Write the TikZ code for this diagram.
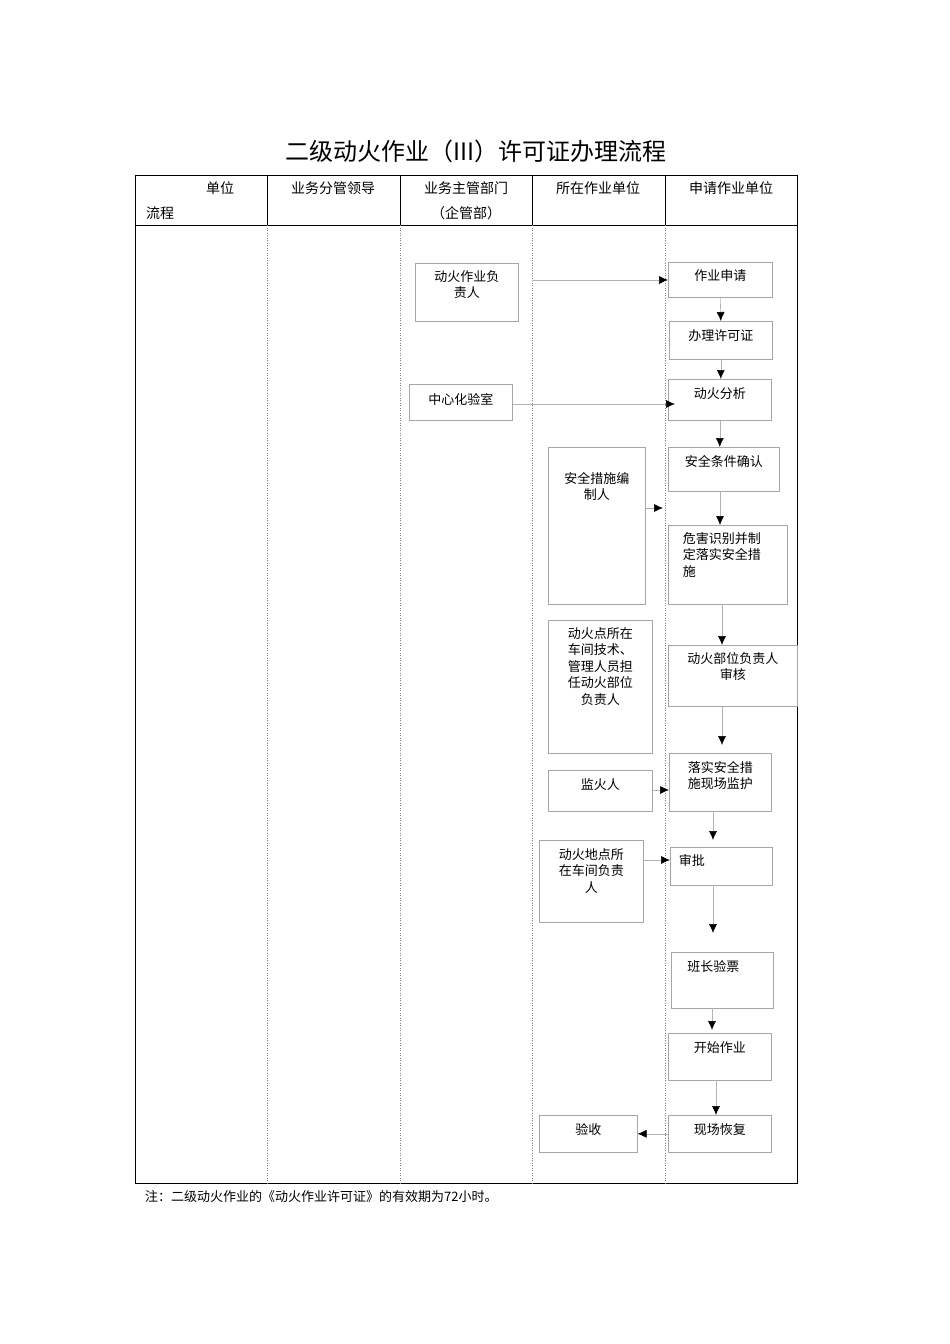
\documentclass[tikz,border=0pt]{standalone}
\usepackage{fontspec}
\setmainfont{Noto Sans CJK SC}
\usetikzlibrary{arrows.meta}
\tikzset{
  bx/.style={draw=gray!70, line width=0.6pt, anchor=north west, inner sep=0pt},
  lb/.style={anchor=north, align=center, font=\fontsize{13}{16.5}\selectfont, inner sep=0pt},
  ar/.style={draw=gray!60, line width=0.6pt, -{Latex[black,length=9pt,width=8pt]}},
  hd/.style={font=\fontsize{14}{18}\selectfont, inner sep=0pt},
}
\begin{document}
\begin{tikzpicture}[x=1pt,y=-1pt]
\def\mybox#1#2#3#4#5#6#7{%
  \node[bx, minimum width=#4pt-#2pt, minimum height=#5pt-#3pt] (#1) at (#2,#3) {};
  \node[lb] (#1t) at ([yshift=-#7]#1.north) {#6};}
\useasboundingbox (0,0) rectangle (950,1344);
\node[font=\fontsize{24}{28}\selectfont] (title) at (476,151) {二级动火作业（III）许可证办理流程};
\draw[line width=0.7pt] (135,175) rectangle (797,1183);
\draw[line width=0.7pt] (135,225) -- (797,225);
\foreach \x in {267,400,532,665} {
  \draw[line width=0.6pt] (\x,175) -- (\x,225);
  \draw[gray, line width=0.5pt, dotted] (\x,225) -- (\x,1183);
}
\node[hd] (h0a) at (220,188) {单位};
\node[hd] (h0b) at (160,213) {流程};
\node[hd] (h1) at (333,188) {业务分管领导};
\node[hd] (h2) at (466,188) {业务主管部门};
\node[hd] (h2b) at (466,213) {（企管部）};
\node[hd] (h3) at (598,188) {所在作业单位};
\node[hd] (h4) at (731,188) {申请作业单位};
\mybox{A}{415}{263}{518}{321}{动火作业负\\责人}{7pt}
\mybox{B}{668}{262}{772}{297}{作业申请}{7pt}
\mybox{C}{669}{321}{772}{359}{办理许可证}{8pt}
\mybox{D}{409}{384}{512}{420}{中心化验室}{9pt}
\mybox{E}{668}{379}{771}{420}{动火分析}{8pt}
\mybox{F}{548}{447}{645}{604}{安全措施编\\制人}{25pt}
\mybox{G}{668}{447}{779}{491}{安全条件确认}{8pt}
\mybox{H}{668}{525}{787}{604}{\makebox[90pt][s]{危害识别并制}\\\makebox[90pt][s]{定落实安全措}\\\makebox[90pt][l]{施}}{7pt}
\mybox{I}{548}{620}{652}{753}{动火点所在\\车间技术、\\管理人员担\\任动火部位\\负责人}{7pt}
\mybox{J}{668}{645}{797}{706}{动火部位负责人\\审核}{7pt}
\mybox{K}{548}{770}{652}{811}{监火人}{8pt}
\mybox{L}{669}{753}{771}{811}{落实安全措\\施现场监护}{8pt}
\mybox{M}{539}{840}{643}{922}{动火地点所\\在车间负责\\人}{8pt}
\mybox{N}{670}{847}{772}{885}{\makebox[85pt][l]{审批}}{7pt}
\mybox{O}{671}{952}{773}{1008}{\makebox[70pt][l]{班长验票}}{8pt}
\mybox{P}{668}{1033}{771}{1080}{开始作业}{8pt}
\mybox{Q}{668}{1115}{771}{1152}{现场恢复}{8pt}
\mybox{R}{539}{1115}{637}{1152}{验收}{8pt}
\coordinate (a1) at (532,280);
\draw[ar] (a1) -- (B.west |- a1);
\draw[ar] (B.south) -- (C.north);
\draw[ar] (C.south) -- (E.north -| C.south);
\coordinate (d1) at (675,404);
\draw[ar] (D.east |- d1) -- (d1);
\draw[ar] (E.south) -- (G.north -| E.south);
\coordinate (f1) at (663,508);
\draw[ar] (F.east |- f1) -- (f1);
\coordinate (g1) at (720,491);
\draw[ar] (g1) -- (H.north -| g1);
\coordinate (h1a) at (722,604);
\draw[ar] (h1a) -- (J.north -| h1a);
\coordinate (j1) at (722,706);
\draw[ar] (j1) -- (722,745);
\coordinate (k1) at (600,790);
\draw[ar] (K.east |- k1) -- (L.west |- k1);
\coordinate (l1) at (713,811);
\draw[ar] (l1) -- (713,840);
\coordinate (m1) at (600,860);
\draw[ar] (M.east |- m1) -- (N.west |- m1);
\coordinate (n1) at (713,885);
\draw[ar] (n1) -- (713,933);
\coordinate (o1) at (712,1008);
\draw[ar] (o1) -- (712,1030);
\coordinate (p1) at (716,1080);
\draw[ar] (p1) -- (Q.north -| p1);
\draw[ar] (Q.west) -- (R.east);
\node[anchor=west, font=\fontsize{13}{16}\selectfont, inner sep=0pt] (note) at (145,1197) {注：二级动火作业的《动火作业许可证》的有效期为72小时。};
\end{tikzpicture}
\end{document}
